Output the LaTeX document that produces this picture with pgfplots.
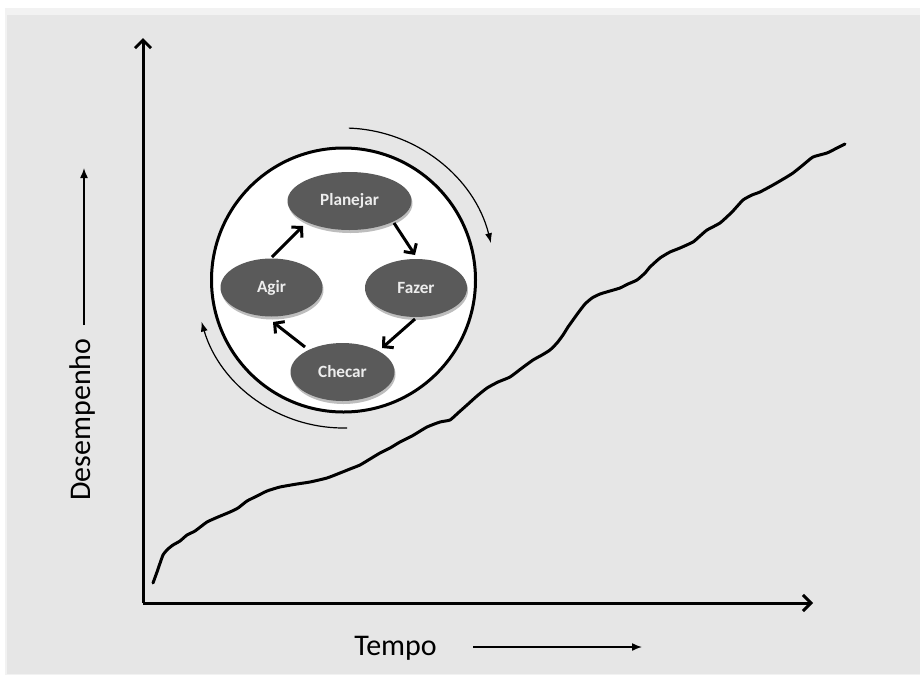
\documentclass[border=0pt]{standalone}
\usepackage{pgfplots}
\pgfplotsset{compat=1.18}
\usepackage{fontspec}
\setmainfont{Carlito}
\usetikzlibrary{arrows.meta}
\definecolor{panel}{HTML}{E6E6E6}
\definecolor{panelhi}{HTML}{F2F2F2}
\definecolor{ell}{HTML}{5A5A5A}
\definecolor{ellsh}{HTML}{BDBDBD}
\tikzset{
  shad/.style={fill=ellsh},
  ellf/.style={fill=ell},
  elab/.style={text=white!93!black, font=\fontsize{8.6}{10}\selectfont\bfseries},
  cyc/.style={line width=1.5pt, -{Straight Barb[length=3.5pt,width=7.5pt]}},
}
\begin{document}
\begin{tikzpicture}
\path[use as bounding box] (0,0) rectangle (460pt,338.5pt);
\fill[white] (0,0) rectangle (460pt,338.5pt);
\fill[panelhi] (2.5pt,1pt) rectangle (460pt,334.5pt);
\fill[panel] (3.5pt,1.5pt) rectangle (460pt,331pt);
\begin{axis}[
  at={(71.5pt,37pt)}, anchor=south west,
  scale only axis, width=335pt, height=282.5pt,
  xmin=0, xmax=670, ymin=0, ymax=565,
  axis lines=left, xtick=\empty, ytick=\empty,
  axis line style={line width=1.5pt, -{Straight Barb[length=4pt,width=8pt,line width=1.5pt]}},
  clip=false,
]
\addplot[black, line width=1.5pt, line join=round, line cap=round, smooth, tension=0.3] coordinates {
(10,20)(14,31)(20,48)(25,54)(30,58)(37,62)(44,68)(52,72)(64,81)(75,86)(87,91)(95,95)
(104,102)(114,107)(124,112)(137,116)(154,119)(167,121)(184,125)(197,130)(207,134)(217,138)
(227,144)(237,150)(247,155)(257,161)(269,167)(284,176)(297,181)(307,183)(315,190)(324,198)
(334,207)(344,215)(355,221)(367,226)(379,235)(390,243)(399,248)(407,253)(414,260)(420,268)
(425,276)(430,283)(435,290)(442,299)(449,305)(457,309)(467,312)(477,315)(485,319)(494,323)
(502,330)(507,336)(517,345)(527,351)(537,355)(550,361)(557,367)(564,373)(577,380)(589,391)
(600,403)(609,408)(617,411)(630,418)(642,425)(650,430)(660,438)(670,446)(684,450)(694,455)(702,459)
};
% axis labels
\node[anchor=base, font=\fontsize{15}{18}\selectfont] at (axis cs:252.5,-52) {Tempo};
\draw[line width=0.75pt, -{Latex[length=5pt,width=4pt]}] (axis cs:330,-44) -- (axis cs:499,-44);
\node[rotate=90, font=\fontsize{15}{18}\selectfont] at (axis cs:-60,183.5) {Desempenho};
\draw[line width=0.75pt, -{Latex[length=5pt,width=4pt]}] (axis cs:-59,278) -- (axis cs:-59,435);
% PDCA cycle
\draw[line width=1.5pt, fill=white] (axis cs:200.5,323) circle[radius=66pt];
\draw[line width=0.6pt, -{Latex[length=5pt,width=3.5pt]}] ([shift={(88:76pt)}]axis cs:200.5,323) arc[start angle=88, end angle=14, radius=76pt];
\draw[line width=0.6pt, -{Latex[length=5pt,width=3.5pt]}] ([shift={(-88.6:74pt)}]axis cs:200.5,323) arc[start angle=-88.6, end angle=-163.7, radius=74pt];
% ellipses
\fill[shad] ([shift={(0.5pt,-1.2pt)}]axis cs:206.5,402) ellipse[x radius=31pt, y radius=14.8pt];
\fill[ellf] (axis cs:206.5,402) ellipse[x radius=31pt, y radius=14.5pt];
\node[elab] at (axis cs:206.5,402) {Planejar};
\fill[shad] ([shift={(0.5pt,-1.2pt)}]axis cs:128.5,315.5) ellipse[x radius=25.5pt, y radius=14.8pt];
\fill[ellf] (axis cs:128.5,315.5) ellipse[x radius=25.5pt, y radius=14.5pt];
\node[elab] at (axis cs:128.5,315.5) {Agir};
\fill[shad] ([shift={(0.5pt,-1.2pt)}]axis cs:273,315) ellipse[x radius=25.5pt, y radius=14.8pt];
\fill[ellf] (axis cs:273,315) ellipse[x radius=25.5pt, y radius=14.5pt];
\node[elab] at (axis cs:273,315) {Fazer};
\fill[shad] ([shift={(0.5pt,-1.2pt)}]axis cs:199.5,231) ellipse[x radius=26pt, y radius=14.8pt];
\fill[ellf] (axis cs:199.5,231) ellipse[x radius=26pt, y radius=14.5pt];
\node[elab] at (axis cs:199.5,231) {Checar};
\draw[cyc] (axis cs:129,346) -- (axis cs:160,377);
\draw[cyc] (axis cs:251,380) -- (axis cs:272,348);
\draw[cyc] (axis cs:272,284) -- (axis cs:239,255);
\draw[cyc] (axis cs:162,256) -- (axis cs:130,281);
\end{axis}
\end{tikzpicture}
\end{document}
